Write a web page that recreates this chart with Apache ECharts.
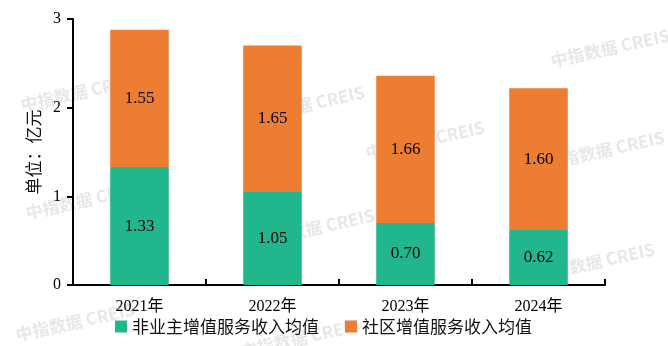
<!DOCTYPE html>
<html><head><meta charset="utf-8">
<script src="https://cdn.jsdelivr.net/npm/echarts@6/dist/echarts.min.js"></script>
<style>html,body{margin:0;padding:0;background:#fff}#c{width:668px;height:346px}</style>
</head><body><div id="c"></div>
<script>
var categories = ['2021年', '2022年', '2023年', '2024年'];
var nonOwnerValues = [1.33, 1.05, 0.70, 0.62];
var communityValues = [1.55, 1.65, 1.66, 1.60];
var seriesNames = ['非业主增值服务收入均值', '社区增值服务收入均值'];
var yTicks = [0, 1, 2, 3];
var watermarkText = '中指数据 CREIS';
var watermarkSpots = [[80,92],[85,200],[75,322],[305,105],[315,228],[425,140],[300,338],[610,48],[605,150],[595,262]];

var chart = echarts.init(document.getElementById('c'));
var serif = '"Liberation Serif","Times New Roman","Noto Sans CJK SC",serif';
var graphics = watermarkSpots.map(function(p){
  return {type:'text', x:p[0], y:p[1], rotation: 0.22, z: 0,
    style:{text: watermarkText, fill:'rgba(170,170,170,0.28)', font:'bold 17px "Noto Sans CJK SC",sans-serif', textAlign:'center', textVerticalAlign:'middle'}};
});
chart.setOption({
  animation:false,
  graphic: graphics,
  grid:{left:73, right:63, top:19, bottom:61},
  legend:{
    data: seriesNames, bottom: 6, left: 110, itemWidth: 12, itemHeight: 12, itemGap: 26,
    icon:'rect',
    textStyle:{fontFamily:'"Noto Sans CJK SC",sans-serif', fontSize:17, color:'#111'}
  },
  xAxis:{
    type:'category', data: categories,
    axisLine:{lineStyle:{color:'#000', width:2}},
    axisTick:{show:true, inside:true, length:6, lineStyle:{color:'#000', width:2}},
    axisLabel:{color:'#000', fontSize:16, fontFamily: serif, margin:14}
  },
  yAxis:{
    type:'value', min: yTicks[0], max: yTicks[yTicks.length-1], interval:1,
    name:'单位：亿元', nameLocation:'middle', nameGap:24, nameRotate:90,
    nameTextStyle:{fontFamily:'"Noto Sans CJK SC",sans-serif', fontSize:17, color:'#111'},
    axisLine:{show:true, lineStyle:{color:'#000', width:2}},
    axisTick:{show:true, length:6, lineStyle:{color:'#000', width:2}},
    splitLine:{show:false},
    axisLabel:{color:'#000', fontSize:16, fontFamily: serif, margin:12}
  },
  series:[
    {name: seriesNames[0], type:'bar', stack:'a', data: nonOwnerValues, barWidth:'44%', z:3,
     itemStyle:{color:'#21B68B'},
     label:{show:true, position:'inside', color:'#000', fontSize:17, fontFamily: serif,
       formatter:function(p){return p.value.toFixed(2);}}},
    {name: seriesNames[1], type:'bar', stack:'a', data: communityValues, barWidth:'44%', z:3,
     itemStyle:{color:'#ED7D33'},
     label:{show:true, position:'inside', color:'#000', fontSize:17, fontFamily: serif,
       formatter:function(p){return p.value.toFixed(2);}}}
  ]
});
</script></body></html>
